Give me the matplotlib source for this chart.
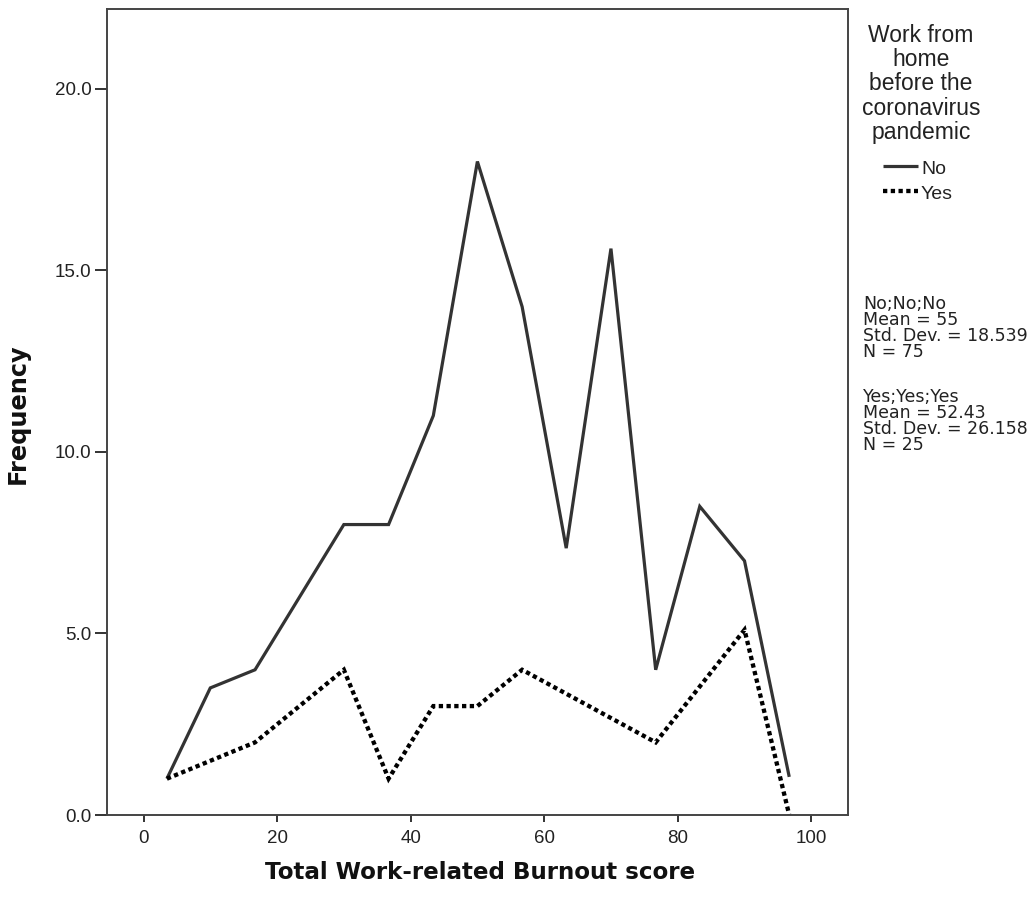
import matplotlib
matplotlib.use("Agg")
import matplotlib.pyplot as plt

# Frequency polygon data (bin midpoints of the burnout score)
x_no = [3.5, 10.0, 16.7, 30.0, 36.7, 43.4, 50.0, 56.7, 63.3, 70.0, 76.7, 83.3, 90.0, 96.7]
freq_no = [1.0, 3.5, 4.0, 8.0, 8.0, 11.0, 18.0, 14.0, 7.35, 15.6, 4.0, 8.5, 7.0, 1.05]

x_yes = [3.5, 16.7, 30.0, 36.7, 43.4, 50.0, 56.7, 76.7, 90.0, 96.7]
freq_yes = [1.0, 2.0, 4.0, 1.0, 3.0, 3.0, 4.0, 2.0, 5.1, 0.0]

x_ticks = [0, 20, 40, 60, 80, 100]
y_ticks = [0, 5, 10, 15, 20]

legend_title = ["Work from", "home", "before the", "coronavirus", "pandemic"]
legend_labels = ["No", "Yes"]
stats_no = ["No;No;No", "Mean = 55", "Std. Dev. = 18.539", "N = 75"]
stats_yes = ["Yes;Yes;Yes", "Mean = 52.43", "Std. Dev. = 26.158", "N = 25"]

W, H = 1033, 897
fig = plt.figure(figsize=(W / 100, H / 100), dpi=100)
fig.patch.set_facecolor("white")

L, R, T, B = 107, 848, 9, 815
ax = fig.add_axes([L / W, (H - B) / H, (R - L) / W, (B - T) / H])

FONT = "Liberation Sans"
WIDE = "DejaVu Sans"

solid_col = "#333333"
ax.plot(x_no, freq_no, color=solid_col, lw=2.3, solid_joinstyle="miter",
        solid_capstyle="butt")
ax.plot(x_yes, freq_yes, color="black", lw=3.1, linestyle=(0, (1.0, 0.8)),
        dash_capstyle="butt", dash_joinstyle="miter")

ax.set_xlim(-5.47, 105.5)
ax.set_ylim(0, 22.2)
ax.set_xticks(x_ticks)
ax.set_yticks(y_ticks)
ax.set_yticklabels([f"{v:.1f}" for v in y_ticks])

for s in ax.spines.values():
    s.set_color("#444444")
    s.set_linewidth(1.4)

ax.tick_params(axis="y", direction="out", length=9, width=1.4, color="#333333",
               pad=2, labelsize=13.5, labelcolor="#222222")
ax.tick_params(axis="x", direction="out", length=5, width=1.4, color="#333333",
               pad=6, labelsize=13.5, labelcolor="#222222")
for lab in ax.get_xticklabels() + ax.get_yticklabels():
    lab.set_fontfamily(FONT)


def px(x, y):
    return x / W, 1 - y / H


# axis titles
fig.text(*px(480, 879), "Total Work-related Burnout score", ha="center",
         va="baseline", fontsize=16.6, fontweight="bold", family=WIDE,
         color="#111111")
fig.text(*px(30, 414), "Frequency", ha="right", va="center", rotation=90,
         fontsize=17.3, fontweight="bold", family=WIDE, color="#111111")

# legend title
for i, line in enumerate(legend_title):
    fig.text(*px(921, 41.5 + 24.5 * i), line, ha="center", va="baseline",
             fontsize=16.5, family=FONT, color="#222222")

# legend entries
entry_y = [166, 191]
styles = [dict(color=solid_col, lw=2.3, linestyle="-", solid_capstyle="butt"),
          dict(color="black", lw=3.1, linestyle=(0, (1.0, 0.8)),
               dash_capstyle="butt")]
for yv, lab, st in zip(entry_y, legend_labels, styles):
    x0, y0 = px(883, yv)
    x1, _ = px(918, yv)
    fig.add_artist(plt.Line2D([x0, x1], [y0, y0], transform=fig.transFigure, **st))
    fig.text(*px(921, yv + 8), lab, ha="left", va="baseline", fontsize=14,
             family=FONT, color="#222222")

# summary statistics, one block per group
fig.text(*px(863, 295), "\n".join(stats_no), ha="left", va="top",
         fontsize=12.5, family=WIDE, color="#222222", linespacing=0.86)
fig.text(*px(863, 388), "\n".join(stats_yes), ha="left", va="top",
         fontsize=12.5, family=WIDE, color="#222222", linespacing=0.86)

fig.savefig("out.png", dpi=100, facecolor="white")
